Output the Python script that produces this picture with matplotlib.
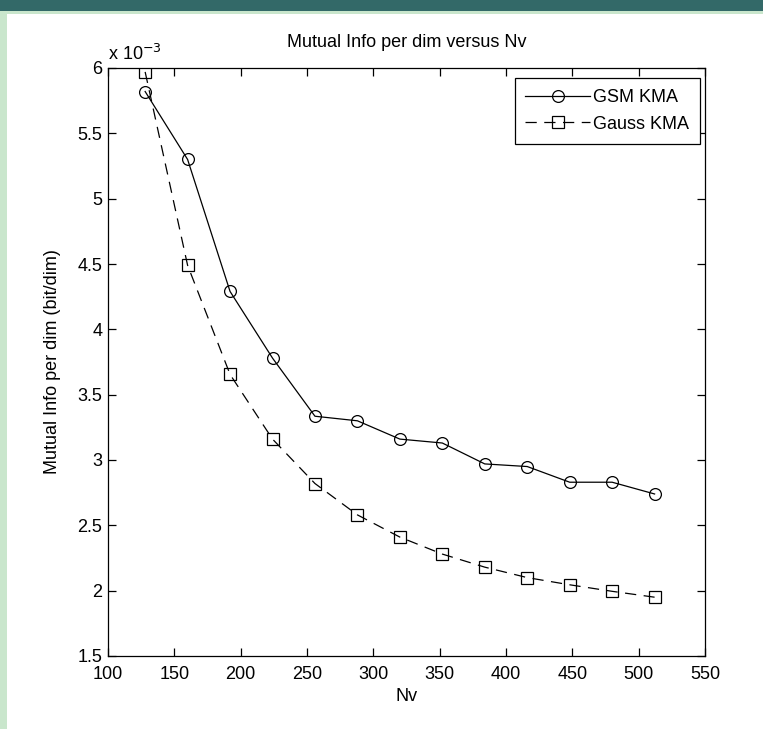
import matplotlib
matplotlib.use("Agg")
import matplotlib.pyplot as plt
from matplotlib.patches import Rectangle
from matplotlib.ticker import FuncFormatter

nv = [128, 160, 192, 224, 256, 288, 320, 352, 384, 416, 448, 480, 512]
gsm_kma = [5.82e-3, 5.30e-3, 4.29e-3, 3.78e-3, 3.335e-3, 3.30e-3, 3.16e-3,
           3.13e-3, 2.97e-3, 2.95e-3, 2.83e-3, 2.83e-3, 2.74e-3]
gauss_kma = [5.97e-3, 4.49e-3, 3.655e-3, 3.16e-3, 2.82e-3, 2.58e-3, 2.41e-3,
             2.28e-3, 2.18e-3, 2.10e-3, 2.045e-3, 1.995e-3, 1.95e-3]
x_ticks = [100, 150, 200, 250, 300, 350, 400, 450, 500, 550]
y_ticks = [1.5e-3, 2e-3, 2.5e-3, 3e-3, 3.5e-3, 4e-3, 4.5e-3, 5e-3, 5.5e-3, 6e-3]

plt.rcParams['font.family'] = ['Liberation Sans', 'DejaVu Sans']
FS = 13

fig = plt.figure(figsize=(7.63, 7.29), dpi=100)
fig.patch.set_facecolor('white')
W, H = 763, 729
# decorative border
fig.patches.append(Rectangle((0, 0), 7 / W, 1, transform=fig.transFigure,
                             facecolor='#c9e6cc', edgecolor='none', zorder=0))
fig.patches.append(Rectangle((0, 1 - 14 / H), 1, 14 / H, transform=fig.transFigure,
                             facecolor='#c9e6cc', edgecolor='none', zorder=0))
fig.patches.append(Rectangle((0, 1 - 11 / H), 1, 11 / H, transform=fig.transFigure,
                             facecolor='#336968', edgecolor='none', zorder=1))

L, R, T, B = 108, 705, 68, 656
ax = fig.add_axes([L / W, 1 - B / H, (R - L) / W, (B - T) / H])
ax.plot(nv, gsm_kma, '-', color='black', lw=0.9, marker='o', markersize=8.5,
        markerfacecolor='none', markeredgecolor='black', markeredgewidth=0.9,
        label='GSM KMA')
ax.plot(nv, gauss_kma, '--', color='black', lw=0.9, marker='s', markersize=9,
        markerfacecolor='none', markeredgecolor='black', markeredgewidth=0.9,
        dashes=(9, 6), label='Gauss KMA')

ax.set_xlim(100, 550)
ax.set_ylim(1.5e-3, 6e-3)
ax.set_xticks(x_ticks)
ax.set_yticks(y_ticks)
ax.yaxis.set_major_formatter(FuncFormatter(lambda v, p: f"{v * 1e3:g}"))
ax.tick_params(direction='in', top=True, right=True, length=6, width=0.9,
               labelsize=FS, colors='black')
ax.tick_params(axis='y', pad=4)
ax.tick_params(axis='x', pad=7)
for s in ax.spines.values():
    s.set_linewidth(0.9)
    s.set_color('black')

ax.set_title('Mutual Info per dim versus Nv', fontsize=FS, pad=15)
ax.set_xlabel('Nv', fontsize=FS, labelpad=4)
ax.set_ylabel('Mutual Info per dim (bit/dim)', fontsize=FS, labelpad=12)
ax.text(0.0, 1.006, r'x 10$^{-3}$', transform=ax.transAxes, fontsize=FS,
        ha='left', va='bottom')

leg = ax.legend(loc='upper right', bbox_to_anchor=((700 - L) / (R - L), (B - 78) / (B - T)),
                borderaxespad=0, fontsize=FS, frameon=True, fancybox=False,
                edgecolor='black', framealpha=1, handlelength=3.6,
                handletextpad=0.15, labelspacing=0.55, borderpad=0.6)
leg.get_frame().set_linewidth(0.9)

fig.savefig('out.png', dpi=100, facecolor=fig.get_facecolor())
